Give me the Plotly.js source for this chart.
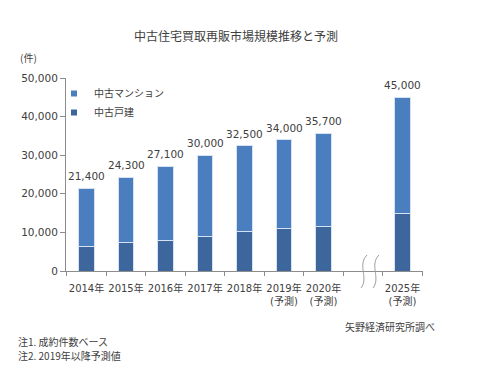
<!DOCTYPE html>
<html><head><meta charset="utf-8">
<script src="https://cdn.plot.ly/plotly-3.0.1.min.js"></script>
<style>html,body{margin:0;padding:0;background:#fff}#c{width:496px;height:373px}</style>
</head><body><div id="c"></div>
<script>
var categories = ['2014年','2015年','2016年','2017年','2018年','2019年<br>(予測)','2020年<br>(予測)',' ','2025年<br>(予測)'];
var kodate = [6300, 7300, 8000, 9000, 10300, 11000, 11600, null, 15000];
var totals = [21400, 24300, 27100, 30000, 32500, 34000, 35700, null, 45000];
var totalLabels = ['21,400','24,300','27,100','30,000','32,500','34,000','35,700','','45,000'];
var mansion = totals.map(function(t,i){return t===null?null:t-kodate[i];});
var yTickVals = [0,10000,20000,30000,40000,50000];
var yTickText = ['0','10,000','20,000','30,000','40,000','50,000'];

var FONT = 'DejaVu Sans, Noto Sans CJK JP, sans-serif';
var JFONT = 'Noto Sans CJK JP, sans-serif';
var W=496,H=373,L=66,R=73,T=78,B=102;
function px(x){return (x-L)/(W-L-R);}
function py(y){return (H-B-y)/(H-T-B);}
var C_KODATE='#3d679c', C_MANSION='#4a7ebe';

var traces = [
 {type:'bar', name:'中古戸建', x:categories, y:kodate, showlegend:false, legendgroup:'k',
  marker:{color:C_KODATE, line:{color:'#d6e2f2', width:1}}, hoverinfo:'skip'},
 {type:'bar', name:'中古マンション', x:categories, y:mansion, showlegend:false, legendgroup:'m',
  marker:{color:C_MANSION, line:{color:'#d6e2f2', width:1}}, hoverinfo:'skip'},
 {type:'scatter', mode:'markers', name:'中古戸建', x:[null], y:[null], legendgroup:'k',
  marker:{symbol:'square', size:6, color:C_KODATE}, hoverinfo:'skip'},
 {type:'scatter', mode:'markers', name:'中古マンション', x:[null], y:[null], legendgroup:'m',
  marker:{symbol:'square', size:6, color:C_MANSION}, hoverinfo:'skip'}
];

var annotations = [];
categories.forEach(function(c,i){
  if(totals[i]===null) return;
  annotations.push({x:c, y:totals[i], xref:'x', yref:'y', text:totalLabels[i], showarrow:false,
    xanchor:'center', yanchor:'bottom', yshift:4, font:{family:FONT, size:10.5, color:'#404040'}});
});
function note(x,y,text,xa,size){
  annotations.push({xref:'paper',yref:'paper',x:px(x),y:py(y),text:text,showarrow:false,
    xanchor:xa, yanchor:'middle', font:{family:JFONT,size:size,color:'#404040'}});
}
note(236,35,'中古住宅買取再販市場規模推移と予測','center',12);
note(28,57,'(件)','center',10);
note(437,326,'矢野経済研究所調べ','right',10);
note(16,341,'注1. 成約件数ベース','left',10);
note(16,355,'注2. 2019年以降予測値','left',10);

function wave(x0){
  return 'M '+px(x0+5)+','+py(255)+' C '+px(x0-5)+','+py(265)+' '+px(x0+7)+','+py(278)+' '+px(x0-1)+','+py(288);
}
var shapes = [
  {type:'path', xref:'paper', yref:'paper', path:wave(362), line:{color:'#a0a0a0', width:1}},
  {type:'path', xref:'paper', yref:'paper', path:wave(374), line:{color:'#a0a0a0', width:1}}
];

var layout = {
  width:W, height:H, margin:{l:L,r:R,t:T,b:B,pad:0},
  paper_bgcolor:'#fff', plot_bgcolor:'#fff',
  barmode:'stack', bargap:0.6,
  font:{family:FONT, size:10, color:'#404040'},
  showlegend:true,
  legend:{x:px(54), y:py(79), xanchor:'left', yanchor:'top', traceorder:'reversed',
    bgcolor:'rgba(0,0,0,0)', font:{family:JFONT, size:10, color:'#404040'},
    itemwidth:30, tracegroupgap:0},
  xaxis:{type:'category', tickvals:categories, ticktext:categories, tickangle:0, showgrid:false, zeroline:false,
    showline:true, linecolor:'#8c8c8c', linewidth:1, ticks:'outside', tickson:'boundaries', ticklen:4,
    ticklabelstandoff:8,
    tickcolor:'#8c8c8c', tickfont:{family:FONT, size:10, color:'#404040'}, fixedrange:true},
  yaxis:{range:[0,50000], tickvals:yTickVals, ticktext:yTickText, showgrid:false, zeroline:false,
    showline:true, linecolor:'#8c8c8c', linewidth:1, ticks:'outside', ticklen:5, tickcolor:'#8c8c8c',
    tickfont:{family:FONT, size:10.5, color:'#404040'}, fixedrange:true},
  annotations:annotations, shapes:shapes
};
Plotly.newPlot('c', traces, layout, {staticPlot:true, displayModeBar:false});
</script>
</body></html>
